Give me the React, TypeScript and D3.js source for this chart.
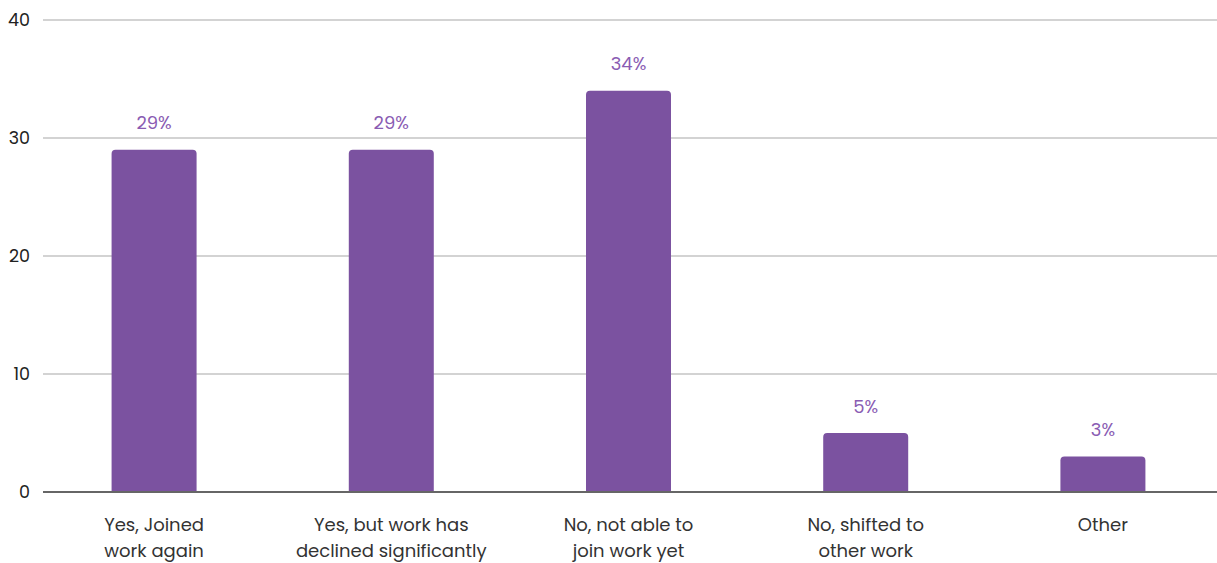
import React from "react";
import * as d3 from "d3";

const categories: string[][] = [
  ["Yes, Joined", "work again"],
  ["Yes, but work has", "declined significantly"],
  ["No, not able to", "join work yet"],
  ["No, shifted to", "other work"],
  ["Other"],
];
const values: number[] = [29, 29, 34, 5, 3];
const valueLabels: string[] = ["29%", "29%", "34%", "5%", "3%"];
const yTicks: number[] = [0, 10, 20, 30, 40];

const W = 1217;
const H = 563;
const FONT = "Poppins, Inter, 'Open Sans', sans-serif";

export default function App() {
  const keys = categories.map((c) => c.join(" "));
  const x = d3.scaleBand<string>().domain(keys).range([35.6, 1221.4]).paddingInner(0.641).paddingOuter(0.32);
  const y = d3.scaleLinear().domain([0, 40]).range([492, 20]);
  const bw = 85;
  const r = 4;

  const barPath = (cx: number, top: number, bottom: number) => {
    const x0 = cx - bw / 2;
    const x1 = cx + bw / 2;
    const p = d3.path();
    p.moveTo(x0, bottom);
    p.lineTo(x0, top + r);
    p.arcTo(x0, top, x0 + r, top, r);
    p.lineTo(x1 - r, top);
    p.arcTo(x1, top, x1, top + r, r);
    p.lineTo(x1, bottom);
    p.closePath();
    return p.toString();
  };

  return (
    <svg
      width={W}
      height={H}
      style={{ position: "absolute", left: 0, top: 0, background: "#fff" }}
      fontFamily={FONT}
    >
      {yTicks.map((t) => (
        <g key={t}>
          {t !== 0 && (
            <line x1={43} x2={W} y1={y(t)} y2={y(t)} stroke="#c4c4c4" strokeWidth={1.5} />
          )}
          <text x={30} y={y(t)} dy="0.35em" textAnchor="end" fontSize={17.5} fill="#222">
            {t}
          </text>
        </g>
      ))}
      {values.map((v, i) => {
        const cx = (x(keys[i]) as number) + x.bandwidth() / 2;
        return (
          <g key={i}>
            <path d={barPath(cx, y(v), y(0))} fill="#7b52a0" />
            <text x={cx} y={y(v) - 20.5} textAnchor="middle" fontSize={18} fill="#8a5cb3">
              {valueLabels[i]}
            </text>
            {categories[i].map((line, j) => (
              <text key={j} x={cx} y={531 + j * 26} textAnchor="middle" fontSize={18} fill="#333">
                {line}
              </text>
            ))}
          </g>
        );
      })}
      <line x1={43} x2={W} y1={y(0)} y2={y(0)} stroke="#666" strokeWidth={2} />
    </svg>
  );
}
